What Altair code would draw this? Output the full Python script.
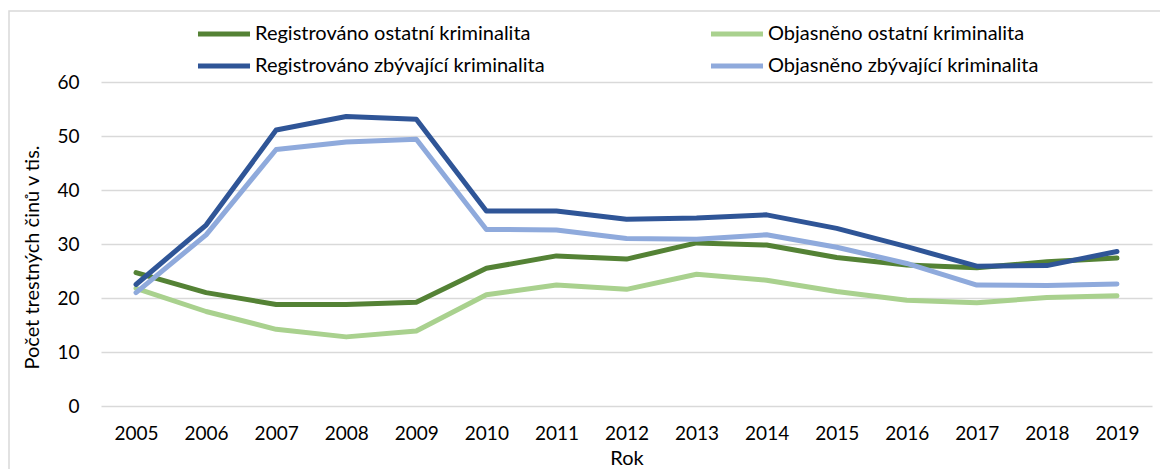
import altair as alt
import pandas as pd

years = [str(y) for y in range(2005, 2020)]
reg_ostatni = [24.7, 21.0, 18.8, 18.8, 19.2, 25.5, 27.8, 27.2, 30.2, 29.8, 27.5, 26.1, 25.6, 26.7, 27.4]
obj_ostatni = [21.8, 17.5, 14.2, 12.8, 13.9, 20.6, 22.4, 21.6, 24.4, 23.3, 21.2, 19.6, 19.1, 20.1, 20.4]
reg_zbyv = [22.5, 33.5, 51.1, 53.6, 53.1, 36.1, 36.1, 34.6, 34.8, 35.4, 32.9, 29.5, 25.9, 26.0, 28.6]
obj_zbyv = [21.0, 31.7, 47.5, 48.9, 49.4, 32.7, 32.6, 31.0, 30.9, 31.7, 29.4, 26.4, 22.4, 22.3, 22.6]

series_names = [
    "Registrováno ostatní kriminalita",
    "Objasněno ostatní kriminalita",
    "Registrováno zbývající kriminalita",
    "Objasněno zbývající kriminalita",
]
series_values = [reg_ostatni, obj_ostatni, reg_zbyv, obj_zbyv]
colors = ["#548235", "#A9D18E", "#2F5597", "#8FAADC"]
# legend is filled column by column: order entries so rows read as in the original
legend_order = [0, 2, 1, 3]
legend_domain = [series_names[i] for i in legend_order]
legend_range = [colors[i] for i in legend_order]
y_ticks = [0, 10, 20, 30, 40, 50, 60]

rows = []
for idx, (name, vals) in enumerate(zip(series_names, series_values)):
    for yr, v in zip(years, vals):
        rows.append({"Rok": yr, "value": v, "series": name, "draw": idx})
df = pd.DataFrame(rows)

FONT = "Lato"

frame = alt.Chart(pd.DataFrame({"a": [0]})).mark_rect(
    fillOpacity=0, stroke="#D9D9D9", strokeWidth=1.5
).encode(
    x=alt.value(-92), x2=alt.value(1200), y=alt.value(-71), y2=alt.value(600)
)

lines = alt.Chart(df).mark_line(strokeWidth=5, strokeCap="round", strokeJoin="round").encode(
    x=alt.X(
        "Rok:O",
        sort=years,
        scale=alt.Scale(type="point", padding=0.5),
        axis=alt.Axis(
            title="Rok",
            labelAngle=0,
            labelFont=FONT,
            labelFontSize=19,
            labelColor="#000000",
            labelPadding=18,
            ticks=False,
            domain=False,
            grid=False,
            titleFont=FONT,
            titleFontSize=20,
            titleFontWeight="normal",
            titleColor="#000000",
            titleY=52,
            titleBaseline="middle",
        ),
    ),
    y=alt.Y(
        "value:Q",
        scale=alt.Scale(domain=[0, 60], nice=False),
        axis=alt.Axis(
            title="Počet trestných činů v tis.",
            values=y_ticks,
            labelFont=FONT,
            labelFontSize=19,
            labelColor="#000000",
            labelPadding=22,
            ticks=False,
            domain=False,
            grid=True,
            gridColor="#D9D9D9",
            gridWidth=1.5,
            titleFont=FONT,
            titleFontSize=20,
            titleFontWeight="normal",
            titleColor="#000000",
            titleAngle=270,
            titleX=-69,
            titleY=175,
            titleAlign="center",
            titleBaseline="middle",
        ),
    ),
    color=alt.Color(
        "series:N",
        sort=legend_domain,
        scale=alt.Scale(domain=legend_domain, range=legend_range),
        legend=alt.Legend(
            title=None,
            orient="none",
            legendX=110,
            legendY=-61,
            columns=2,
            symbolType="M-2.5,0H2.5",
            symbolSize=433,
            symbolStrokeWidth=5,
            labelFont=FONT,
            labelFontSize=20,
            labelColor="#000000",
            labelOffset=18,
            labelLimit=500,
            columnPadding=155,
            rowPadding=9,
            padding=0,
        ),
    ),
    order=alt.Order("draw:Q"),
)

chart = alt.layer(frame, lines).properties(
    width=1051,
    height=324,
    autosize=alt.AutoSizeParams(type="none"),
    padding={"left": 93, "top": 74, "right": 8, "bottom": 63},
    background="white",
).configure_view(stroke=None)

chart.save("out.html", embed_options={"renderer": "svg", "actions": False})
